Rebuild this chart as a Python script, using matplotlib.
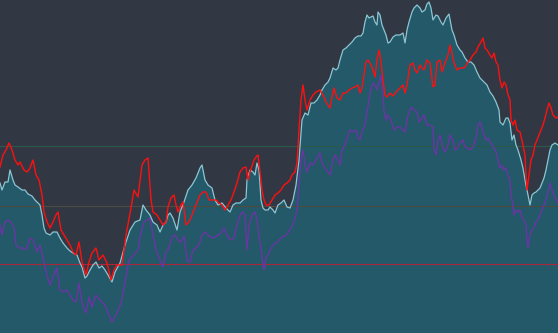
import matplotlib
matplotlib.use("Agg")
import matplotlib.pyplot as plt

# Series values (in chart units; axis runs top=0 to bottom=333)
area_x = [0, 2, 5, 8, 10, 13, 15, 18, 22, 25, 28, 32, 35, 38, 40, 42, 44, 46, 50, 53, 57, 60, 63, 67, 70, 73, 77,
          80, 82, 85, 87, 90, 93, 96, 99, 102, 105, 108, 112, 115, 120, 125, 130, 135, 140, 143, 146, 150, 153, 157,
          160, 163, 166, 168, 170, 173, 177, 180, 184, 188, 192, 196, 200, 202, 205, 208, 212, 215, 218, 222, 226,
          230, 233, 236, 240, 243, 246, 247, 250, 253, 255, 257, 259, 261, 263, 265, 268, 270, 273, 275, 278, 281,
          284, 287, 290, 293, 296, 299, 302, 305, 308, 311, 314, 317, 320, 322, 325, 328, 330, 333, 336, 338, 340,
          343, 346, 349, 352, 355, 358, 361, 363, 365, 367, 369, 371, 373, 375, 377, 378, 380, 382, 384, 386, 388,
          390, 393, 396, 400, 403, 405, 407, 409, 412, 414, 417, 420, 422, 425, 427, 429, 431, 433, 436, 438, 441,
          443, 446, 449, 452, 454, 457, 460, 462, 465, 468, 471, 474, 477, 480, 484, 487, 490, 493, 496, 499, 500,
          503, 506, 508, 510, 512, 514, 516, 518, 521, 523, 525, 527, 529, 530, 532, 534, 536, 538, 540, 542, 544,
          546, 548, 550, 552, 555, 558]
area_y = [183, 190, 182, 182, 170, 180, 185, 187, 190, 190, 194, 196, 200, 203, 205, 215, 228, 233, 235, 232, 232,
          238, 243, 248, 251, 253, 255, 263, 267, 278, 276, 270, 265, 262, 268, 266, 270, 275, 282, 272, 263, 245,
          230, 222, 220, 205, 210, 215, 222, 225, 232, 225, 222, 215, 213, 218, 230, 212, 202, 190, 185, 178, 168,
          165, 180, 185, 188, 200, 205, 203, 208, 212, 205, 203, 203, 200, 198, 180, 170, 172, 175, 163, 170, 200,
          208, 210, 210, 207, 210, 213, 205, 203, 200, 207, 208, 200, 185, 160, 120, 113, 115, 103, 103, 100, 95,
          90, 85, 82, 78, 68, 70, 68, 60, 50, 48, 45, 42, 38, 36, 36, 33, 22, 15, 18, 17, 16, 22, 25, 12, 15, 25,
          30, 35, 43, 42, 37, 35, 35, 33, 43, 30, 22, 12, 8, 5, 8, 12, 10, 4, 2, 8, 20, 15, 16, 22, 25, 18, 14, 30,
          35, 45, 50, 52, 58, 62, 62, 65, 72, 78, 82, 85, 92, 96, 102, 110, 122, 125, 118, 118, 123, 140, 135, 145,
          150, 160, 168, 180, 190, 200, 205, 195, 193, 192, 190, 188, 183, 178, 170, 160, 150, 145, 143, 145]

red_x = [0, 3, 6, 9, 12, 15, 18, 20, 24, 27, 30, 33, 36, 39, 42, 44, 47, 50, 53, 56, 58, 61, 64, 67, 70, 73, 76, 79,
         82, 86, 89, 92, 96, 99, 103, 107, 111, 114, 117, 122, 126, 131, 134, 138, 142, 145, 148, 151, 153, 157, 160,
         163, 166, 168, 171, 174, 176, 178, 181, 183, 186, 189, 192, 195, 198, 200, 203, 206, 209, 213, 216, 219,
         222, 225, 228, 231, 234, 237, 240, 243, 246, 248, 250, 252, 254, 256, 258, 260, 262, 264, 266, 269, 272,
         275, 278, 281, 284, 287, 290, 292, 295, 297, 299, 301, 303, 305, 307, 310, 313, 316, 320, 323, 326, 328,
         330, 332, 334, 337, 340, 343, 346, 349, 352, 355, 358, 360, 362, 364, 366, 368, 371, 373, 375, 377, 379,
         381, 383, 385, 387, 390, 393, 396, 400, 403, 405, 407, 410, 413, 415, 417, 420, 422, 424, 427, 430, 433,
         435, 437, 440, 442, 445, 448, 450, 452, 454, 457, 460, 463, 465, 468, 470, 473, 476, 478, 481, 483, 485,
         487, 490, 492, 494, 496, 498, 500, 502, 504, 506, 508, 510, 511, 513, 515, 517, 520, 523, 525, 526, 527,
         529, 531, 533, 535, 537, 539, 541, 543, 545, 547, 549, 551, 553, 556, 558]
red_y = [167, 155, 150, 143, 150, 160, 165, 162, 170, 172, 168, 160, 175, 180, 195, 212, 222, 228, 222, 215, 212,
         230, 235, 240, 245, 252, 255, 242, 262, 275, 262, 253, 248, 260, 255, 263, 280, 270, 265, 265, 235, 208,
         190, 197, 165, 160, 158, 200, 212, 215, 220, 225, 222, 207, 198, 195, 205, 212, 205, 202, 225, 222, 215,
         207, 200, 195, 192, 192, 200, 200, 200, 203, 205, 210, 205, 200, 192, 183, 172, 168, 167, 180, 172, 166,
         160, 157, 155, 172, 190, 200, 205, 205, 200, 195, 193, 190, 185, 183, 180, 175, 172, 163, 130, 100, 85,
         100, 110, 100, 95, 92, 90, 95, 102, 105, 108, 97, 88, 98, 100, 93, 93, 90, 88, 87, 85, 93, 88, 75, 62, 60,
         65, 70, 77, 60, 50, 62, 80, 95, 97, 93, 96, 92, 88, 85, 93, 85, 65, 63, 70, 73, 65, 68, 70, 60, 63, 87, 85,
         62, 60, 72, 63, 55, 45, 53, 63, 70, 68, 68, 67, 62, 60, 55, 52, 47, 42, 38, 48, 50, 55, 58, 53, 62, 65, 80,
         88, 82, 85, 95, 100, 120, 125, 120, 130, 132, 145, 155, 175, 190, 175, 160, 155, 145, 140, 135, 130, 125,
         118, 110, 103, 108, 115, 118, 117]

purple_x = [0, 2, 5, 8, 11, 14, 16, 19, 23, 26, 30, 33, 37, 40, 44, 47, 50, 53, 57, 60, 63, 67, 70, 73, 76, 79, 82,
            86, 89, 92, 96, 100, 105, 109, 112, 117, 121, 125, 129, 134, 138, 140, 144, 147, 150, 153, 156, 160, 163,
            166, 169, 172, 175, 178, 181, 184, 187, 190, 193, 196, 199, 202, 205, 209, 213, 217, 221, 224, 227, 230,
            234, 237, 240, 243, 245, 247, 249, 252, 255, 257, 259, 261, 263, 264, 266, 268, 270, 273, 276, 279, 282,
            285, 288, 291, 294, 297, 299, 301, 303, 305, 307, 310, 313, 316, 320, 322, 325, 328, 330, 333, 335, 338,
            340, 342, 345, 348, 350, 353, 356, 358, 360, 362, 365, 367, 369, 371, 373, 375, 377, 379, 381, 383, 384,
            386, 388, 391, 394, 397, 400, 403, 405, 408, 411, 414, 417, 419, 422, 424, 427, 430, 433, 434, 436, 438,
            440, 443, 445, 448, 450, 453, 455, 458, 460, 463, 465, 468, 470, 473, 476, 478, 480, 482, 484, 486, 488,
            490, 492, 494, 496, 498, 500, 502, 504, 506, 508, 510, 511, 513, 514, 516, 518, 520, 522, 524, 526, 527,
            528, 530, 532, 534, 536, 538, 540, 542, 544, 546, 548, 550, 552, 554, 556, 558]
purple_y = [225, 235, 222, 220, 222, 228, 245, 248, 248, 250, 238, 240, 252, 245, 262, 275, 285, 277, 268, 290, 292,
            290, 295, 300, 302, 283, 303, 313, 297, 307, 295, 300, 305, 315, 322, 313, 303, 283, 260, 255, 250, 237,
            222, 220, 218, 235, 250, 260, 267, 252, 248, 237, 235, 240, 242, 236, 260, 262, 250, 248, 245, 235, 232,
            236, 238, 236, 233, 228, 235, 240, 238, 225, 215, 212, 215, 250, 225, 215, 212, 220, 235, 248, 265, 270,
            258, 255, 250, 245, 243, 240, 237, 236, 233, 228, 222, 210, 185, 160, 150, 165, 172, 163, 165, 160, 153,
            163, 168, 172, 175, 160, 155, 160, 165, 150, 145, 135, 130, 132, 130, 138, 140, 132, 125, 112, 100, 88,
            83, 85, 90, 82, 75, 95, 110, 120, 115, 120, 130, 127, 127, 130, 132, 115, 107, 110, 112, 122, 118, 115,
            125, 125, 127, 150, 155, 140, 135, 148, 152, 145, 135, 140, 150, 148, 143, 140, 147, 148, 150, 147, 138,
            125, 122, 128, 135, 140, 138, 142, 145, 148, 152, 160, 168, 165, 170, 168, 175, 180, 195, 205, 215, 210,
            212, 210, 218, 220, 225, 240, 248, 235, 230, 228, 222, 220, 215, 210, 205, 200, 192, 183, 190, 195, 200,
            203]

grid_levels = [146, 206]
grid_colors = ["#2b5a4c", "#4f4b42"]
baseline_level = 264

fig = plt.figure(figsize=(5.58, 3.33), dpi=100)
fig.patch.set_facecolor("#323843")
ax = fig.add_axes([0, 0, 1, 1])
ax.set_facecolor("#323843")

ax.fill_between(area_x, area_y, 333, color="#235968", linewidth=0, zorder=1)
ax.plot(area_x, area_y, color="#8cc6d4", lw=0.9, zorder=4)

for lvl, c in zip(grid_levels, grid_colors):
    ax.axhline(lvl, color=c, lw=0.8, zorder=2)
ax.axhline(baseline_level, color="#a8283a", lw=0.8, zorder=2)

ax.plot(purple_x, purple_y, color="#6a35a5", lw=1.0, zorder=3)
ax.plot(red_x, red_y, color="#ff1010", lw=1.0, zorder=5)

ax.set_xlim(0, 558)
ax.set_ylim(333, 0)
ax.axis("off")

fig.savefig("out.png", dpi=100, facecolor=fig.get_facecolor())
